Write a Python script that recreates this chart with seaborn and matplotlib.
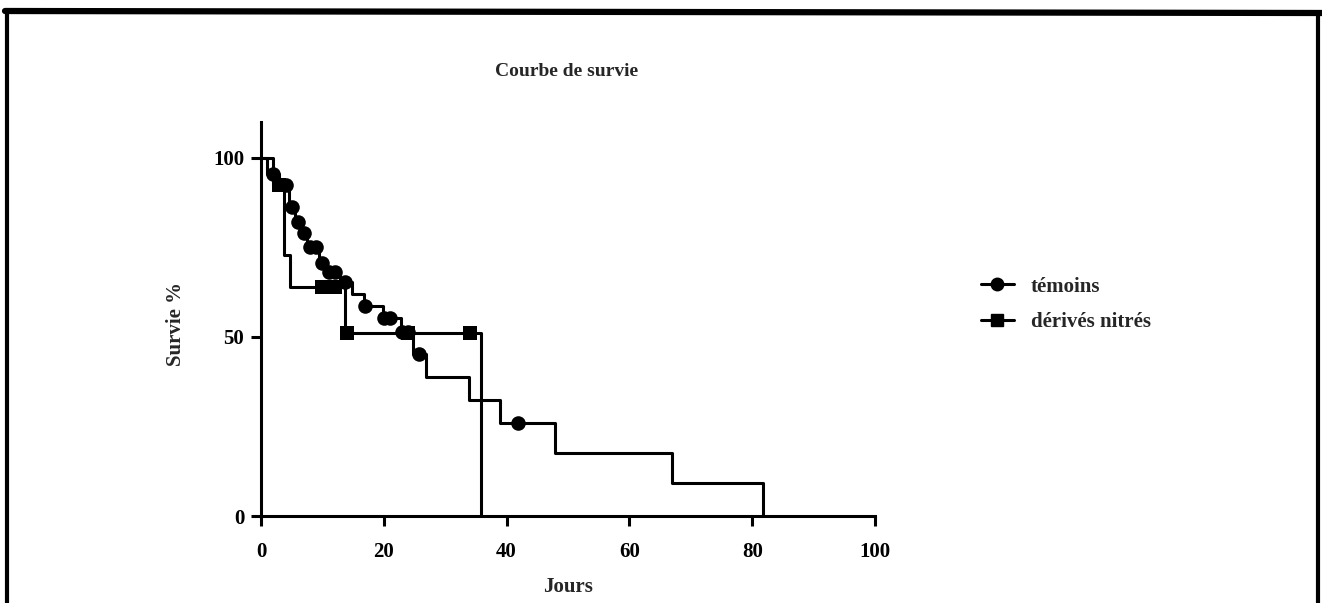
import numpy as np
import pandas as pd
import matplotlib
matplotlib.use("Agg")
import matplotlib.pyplot as plt
from matplotlib.lines import Line2D
import seaborn as sns

# ---- data ----
temoins_t = [0, 1, 3, 4.6, 5.5, 6.5, 7.5, 9.5, 10.5, 12.8, 14.8, 16.8, 19.9, 22.8,
             24.8, 26.8, 33.9, 38.9, 47.9, 66.9, 81.8]
temoins_s = [100, 95.5, 92.5, 86.4, 82.2, 79, 75.2, 70.6, 68.2, 65.4, 62, 58.7, 55.2,
             51.5, 45.2, 38.9, 32.4, 26, 17.5, 9.1, 0]
temoins_cens = [2, 4, 5, 6, 7, 8, 9, 10, 11, 12, 13.7, 16.9, 20, 21, 23, 24, 25.7, 41.9]

derives_t = [0, 2, 3.8, 4.8, 13.7, 35.8]
derives_s = [100, 92.3, 72.9, 64, 51, 0]
derives_cens = [3, 10, 11, 12, 14, 24, 34]

series_names = ["témoins", "dérivés nitrés"]
x_ticks = [0, 20, 40, 60, 80, 100]
y_ticks = [0, 50, 100]


def surv_at(times, t_steps, s_steps):
    idx = np.searchsorted(np.asarray(t_steps), np.asarray(times), side="right") - 1
    return np.asarray(s_steps)[idx]


sns.set_theme(style="ticks")
plt.rcParams["font.family"] = ["Liberation Serif", "DejaVu Serif"]
plt.rcParams["font.weight"] = "bold"

fig = plt.figure(figsize=(13.22, 6.03), dpi=100)
ax = fig.add_axes([261 / 1322, 87 / 603, 614 / 1322, 394 / 603])

lw = 2.2
df_t = pd.DataFrame({"t": temoins_t, "s": temoins_s})
df_d = pd.DataFrame({"t": derives_t, "s": derives_s})
sns.lineplot(data=df_t, x="t", y="s", drawstyle="steps-post", estimator=None, sort=False,
             color="black", lw=lw, ax=ax, clip_on=False)
sns.lineplot(data=df_d, x="t", y="s", drawstyle="steps-post", estimator=None, sort=False,
             color="black", lw=lw, ax=ax, clip_on=False)

ct = pd.DataFrame({"t": temoins_cens, "s": surv_at(temoins_cens, temoins_t, temoins_s)})
cd = pd.DataFrame({"t": derives_cens, "s": surv_at(derives_cens, derives_t, derives_s)})
sns.scatterplot(data=ct, x="t", y="s", marker="o", s=110, color="black", edgecolor="black",
                linewidth=0, ax=ax, zorder=5, clip_on=False)
sns.scatterplot(data=cd, x="t", y="s", marker="s", s=95, color="black", edgecolor="black",
                linewidth=0, ax=ax, zorder=5, clip_on=False)

ax.set_xlim(0, 100)
ax.set_ylim(0, 110)
ax.set_xticks(x_ticks)
ax.set_yticks(y_ticks)
ax.set_xticklabels([str(v) for v in x_ticks], fontsize=15, fontweight="bold")
ax.set_yticklabels([str(v) for v in y_ticks], fontsize=15, fontweight="bold")
ax.tick_params(axis="x", length=7, width=lw, pad=12, colors="black")
ax.tick_params(axis="y", length=7, width=lw, pad=5, colors="black")
for side in ["top", "right"]:
    ax.spines[side].set_visible(False)
for side in ["left", "bottom"]:
    ax.spines[side].set_linewidth(lw)
    ax.spines[side].set_color("black")
ax.set_facecolor("white")

ax.set_xlabel("Jours", fontsize=15, fontweight="bold")
ax.set_ylabel("Survie %", fontsize=15, fontweight="bold")
ax.xaxis.set_label_coords(0.5, -0.155)
ax.yaxis.set_label_coords(-0.122, 0.487)

fig.text(567 / 1322, 1 - 72 / 603, "Courbe de survie", ha="center", va="center",
         fontsize=14, fontweight="bold")

handles = [
    Line2D([], [], color="black", lw=lw, marker="o", markersize=9),
    Line2D([], [], color="black", lw=lw, marker="s", markersize=8.5),
]
fig.legend(handles, series_names, loc="center left", bbox_to_anchor=(0.7275, 0.495),
           frameon=False, prop={"size": 15, "weight": "bold"}, handlelength=1.6,
           handletextpad=0.8, labelspacing=0.75)

# outer frame (top, left, right)
fig.add_artist(Line2D([5 / 1322, 1.0], [1 - 11 / 603, 1 - 13 / 603], color="black", lw=4.5,
                      transform=fig.transFigure))
fig.add_artist(Line2D([7 / 1322, 7 / 1322], [0, 1 - 12 / 603], color="black", lw=3,
                      transform=fig.transFigure))
fig.add_artist(Line2D([1318 / 1322, 1318 / 1322], [0, 1 - 14 / 603], color="black", lw=3,
                      transform=fig.transFigure))

fig.savefig("out.png", dpi=100, facecolor="white")
